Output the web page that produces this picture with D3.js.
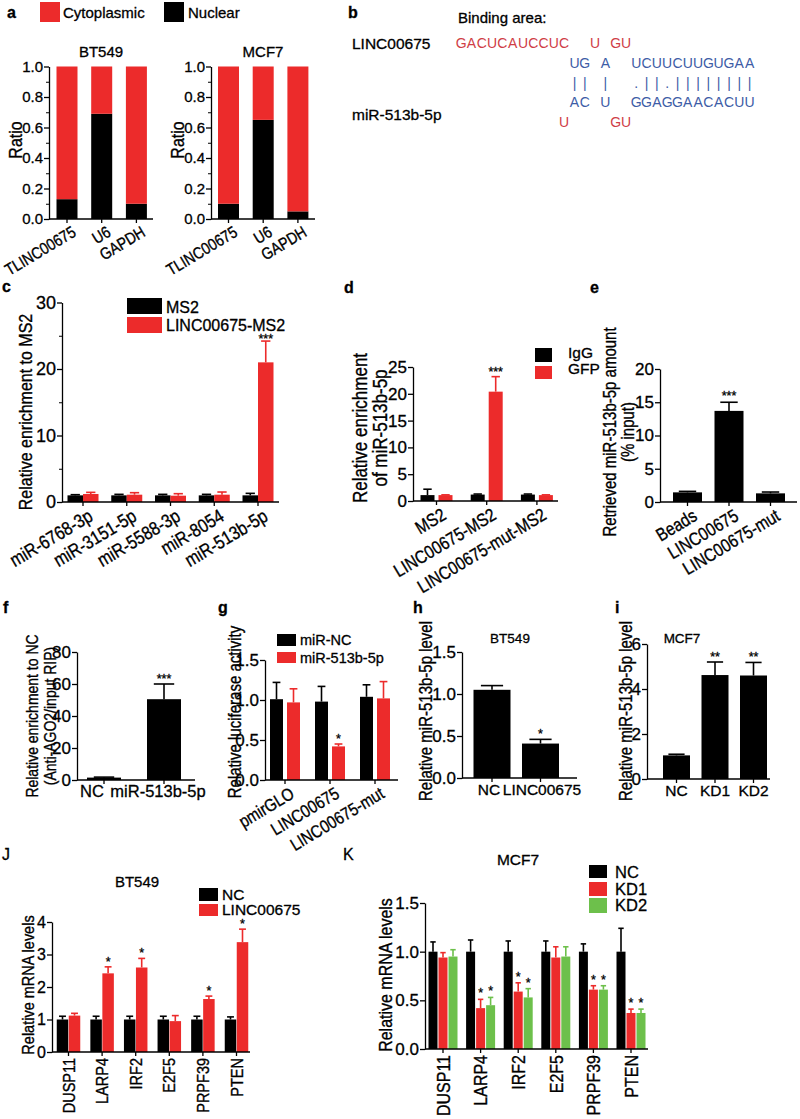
<!DOCTYPE html>
<html><head><meta charset="utf-8">
<script src="https://cdn.jsdelivr.net/npm/d3@7/dist/d3.min.js"></script>
<style>body{margin:0;background:#fff;} svg{display:block;} text{stroke:#000;stroke-width:0.3px;}</style>
</head><body>
<svg id="fig" width="800" height="1119"></svg>
<script>
// ================= DATA =================
// Panel a
const aCategories = ["TLINC00675", "U6", "GAPDH"];
const aSeries = ["Cytoplasmic", "Nuclear"];
const aNuclearBT549 = [0.13, 0.69, 0.10];
const aCytoBT549 = [0.87, 0.31, 0.90];
const aNuclearMCF7 = [0.10, 0.65, 0.05];
const aCytoMCF7 = [0.90, 0.35, 0.95];
const aTicks = [0, 0.2, 0.4, 0.6, 0.8, 1.0];
const aMinor = [0.1, 0.3, 0.5, 0.7, 0.9];

// Panel b
const bNames = ["LINC00675", "miR-513b-5p"];
const bRows = [
  {seq: "GACUCAUCCUC  U GU", tone: "red"},
  {seq: "           UG A  UCUUCUUGUGAA", tone: "blue"},
  {seq: "           || |  .||.||||||||", tone: "blue"},
  {seq: "           AC U  GGAGGAACACUU", tone: "blue"},
  {seq: "          U    GU", tone: "red"}
];

// Panel c
const cCategories = ["miR-6768-3p", "miR-3151-5p", "miR-5588-3p", "miR-8054", "miR-513b-5p"];
const cSeries = ["MS2", "LINC00675-MS2"];
const cMS2 = [1.0, 1.0, 1.0, 1.0, 1.0];
const cMS2Err = [0.1, 0.15, 0.15, 0.15, 0.3];
const cLinc = [1.2, 1.1, 0.95, 1.1, 21.0];
const cLincErr = [0.25, 0.3, 0.3, 0.4, 3.2];
const cSig = ["", "", "", "", "***"];
const cTicks = [0, 10, 20, 30];
const cMinor = [5, 15, 25];

// Panel d
const dCategories = ["MS2", "LINC00675-MS2", "LINC00675-mut-MS2"];
const dSeries = ["IgG", "GFP"];
const dIgG = [1.1, 1.2, 1.2];
const dIgGErr = [1.1, 0.1, 0.1];
const dGFP = [1.1, 20.4, 1.1];
const dGFPErr = [0.05, 2.8, 0.05];
const dSig = ["", "***", ""];
const dTicks = [0, 5, 10, 15, 20, 25];

// Panel e
const eCategories = ["Beads", "LINC00675", "LINC00675-mut"];
const eValues = [1.45, 13.7, 1.3];
const eErr = [0.15, 1.3, 0.2];
const eSig = ["", "***", ""];
const eTicks = [0, 5, 10, 15, 20];

// Panel f
const fCategories = ["NC", "miR-513b-5p"];
const fValues = [1.5, 50.5];
const fErr = [0.3, 9.5];
const fSig = ["", "***"];
const fTicks = [0, 20, 40, 60, 80];

// Panel g
const gCategories = ["pmirGLO", "LINC00675", "LINC00675-mut"];
const gSeries = ["miR-NC", "miR-513b-5p"];
const gNC = [1.01, 0.98, 1.04];
const gNCErr = [0.21, 0.19, 0.15];
const gMiR = [0.97, 0.42, 1.02];
const gMiRErr = [0.17, 0.03, 0.21];
const gSig = ["", "*", ""];
const gTicks = [0, 0.5, 1.0, 1.5];

// Panel h
const hCategories = ["NC", "LINC00675"];
const hValues = [1.05, 0.41];
const hErr = [0.05, 0.05];
const hSig = ["", "*"];
const hTicks = [0, 0.5, 1.0, 1.5];

// Panel i
const iCategories = ["NC", "KD1", "KD2"];
const iValues = [1.05, 4.62, 4.6];
const iErr = [0.05, 0.58, 0.58];
const iSig = ["", "**", "**"];
const iTicks = [0, 2, 4, 6];

// Panel J
const jCategories = ["DUSP11", "LARP4", "IRF2", "E2F5", "PRPF39", "PTEN"];
const jSeries = ["NC", "LINC00675"];
const jNC = [1.0, 1.0, 1.0, 1.0, 1.0, 1.0];
const jNCErr = [0.1, 0.1, 0.1, 0.1, 0.1, 0.08];
const jLinc = [1.12, 2.42, 2.6, 0.95, 1.63, 3.38];
const jLincErr = [0.07, 0.2, 0.28, 0.17, 0.09, 0.4];
const jSig = ["", "*", "*", "", "*", "*"];
const jTicks = [0, 1, 2, 3, 4];

// Panel K
const kCategories = ["DUSP11", "LARP4", "IRF2", "E2F5", "PRPF39", "PTEN"];
const kSeries = ["NC", "KD1", "KD2"];
const kNC = [1.0, 1.0, 1.0, 1.0, 1.0, 1.0];
const kNCErr = [0.1, 0.12, 0.11, 0.11, 0.08, 0.24];
const kKD1 = [0.94, 0.42, 0.59, 0.94, 0.61, 0.37];
const kKD1Err = [0.05, 0.09, 0.09, 0.11, 0.04, 0.04];
const kKD2 = [0.95, 0.45, 0.53, 0.95, 0.61, 0.37];
const kKD2Err = [0.07, 0.08, 0.09, 0.1, 0.04, 0.04];
const kSigKD = ["", "*", "*", "", "*", "*"];
const kTicks = [0, 0.5, 1.0, 1.5];

// ================= STYLE =================
const RED = "#ec2b2b", BLACK = "#000000", GREEN = "#6dc04b";
const SEQRED = "#cf3d46", SEQBLUE = "#3d5ca6";
const FONT = "'Liberation Sans', Arial, Helvetica, sans-serif";
const THICK = 1.18; // glyph thickening perpendicular to reading direction for rotated labels

const svg = d3.select("#fig").attr("font-family", FONT);

function txt(x, y, s, o = {}) {
  const t = svg.append("text").attr("x", x).attr("y", y).text(s)
    .attr("font-size", o.size || 15).attr("fill", o.fill || "#000")
    .attr("text-anchor", o.anchor || "start");
  if (o.bold) t.attr("font-weight", "bold");
  return t;
}
function vlabel(x, cy, s, size) {
  svg.append("text").attr("transform", `translate(${x},${cy}) rotate(-90) scale(1,${THICK})`)
    .attr("text-anchor", "middle").attr("dy", "0.36em")
    .attr("font-size", size || 16).text(s);
}

function yAxis(y, x0, ticks, fmt, size, minor) {
  const g = svg.append("g").attr("transform", `translate(${x0},0)`)
    .call(d3.axisLeft(y).tickValues(ticks).tickFormat(d3.format(fmt)).tickSize(5).tickSizeOuter(0));
  g.attr("font-family", null).attr("font-size", null);
  g.selectAll("text").attr("font-size", size).attr("fill", "#000").attr("x", -6);
  g.selectAll("line,path").attr("stroke", "#000").attr("stroke-width", 1.3);
  if (minor) {
    const m = svg.append("g").attr("transform", `translate(${x0},0)`)
      .call(d3.axisLeft(y).tickValues(minor).tickFormat("").tickSize(3).tickSizeOuter(0));
    m.select(".domain").remove();
    m.selectAll("line").attr("stroke", "#000").attr("stroke-width", 1);
  }
}

function xAxis(xg, yBase, ax0, ax1) {
  const g = svg.append("g").attr("transform", `translate(0,${yBase})`)
    .call(d3.axisBottom(xg).tickFormat("").tickSize(4).tickSizeOuter(0));
  g.select(".domain").remove();
  g.selectAll("line").attr("stroke", "#000").attr("stroke-width", 1.3);
  svg.append("line").attr("x1", ax0).attr("x2", ax1).attr("y1", yBase).attr("y2", yBase)
    .attr("stroke", "#000").attr("stroke-width", 1.4);
}

function xLabels(xg, yBase, mode, size, dxs) {
  const cx = (d, i) => xg(d) + xg.bandwidth() / 2 + (dxs ? dxs[i] : 0);
  const t = svg.append("g").selectAll("text").data(xg.domain()).join("text")
    .attr("font-size", size).text(d => d);
  if (mode === "rot30") {
    t.attr("transform", (d, i) => `translate(${cx(d, i) + 4},${yBase + 6}) rotate(-31) scale(1,${THICK})`)
      .attr("text-anchor", "end").attr("dy", "0.72em");
  } else if (mode === "rot90") {
    t.attr("transform", (d, i) => `translate(${cx(d, i)},${yBase + 6}) rotate(-90) scale(1,${THICK})`)
      .attr("text-anchor", "end").attr("dy", "0.36em");
  } else {
    t.attr("x", cx).attr("y", yBase + 17).attr("text-anchor", "middle");
  }
}

function bars(cfg) {
  const y = d3.scaleLinear().domain(cfg.yDomain).range([cfg.yBase, cfg.yTop]);
  const n = cfg.cats.length;
  const xg = d3.scaleBand().domain(cfg.cats)
    .range([cfg.c0 - cfg.step / 2, cfg.c0 + cfg.step * (n - 0.5)]);
  const ns = cfg.series.length;
  const gap = cfg.gap || 0;
  const total = ns * cfg.bw + (ns - 1) * gap;
  const xs = d3.scaleBand().domain(cfg.series).range([-total / 2, total / 2])
    .paddingInner(ns > 1 ? gap / (cfg.bw + gap) : 0);
  const sigDy = cfg.sigDy !== undefined ? cfg.sigDy : -1;
  cfg.series.forEach((s, si) => {
    const data = cfg.cats.map((c, i) => ({
      c, v: cfg.values[si][i], e: cfg.errs[si][i],
      sig: cfg.sig && cfg.sig[si] ? cfg.sig[si][i] : ""
    }));
    const left = d => xg(d.c) + xg.bandwidth() / 2 + xs(s);
    const mid = d => left(d) + xs.bandwidth() / 2;
    const col = cfg.colors[si];
    const g = svg.append("g");
    g.selectAll("rect").data(data).join("rect")
      .attr("x", left).attr("width", xs.bandwidth())
      .attr("y", d => y(d.v)).attr("height", d => y(0) - y(d.v)).attr("fill", col);
    g.selectAll("line.eb").data(data).join("line").attr("class", "eb")
      .attr("x1", mid).attr("x2", mid).attr("y1", d => y(d.v)).attr("y2", d => y(d.v + d.e))
      .attr("stroke", col).attr("stroke-width", 1.6);
    const cw = xs.bandwidth() * 0.6;
    g.selectAll("line.cap").data(data).join("line").attr("class", "cap")
      .attr("x1", d => mid(d) - cw / 2).attr("x2", d => mid(d) + cw / 2)
      .attr("y1", d => y(d.v + d.e)).attr("y2", d => y(d.v + d.e))
      .attr("stroke", col).attr("stroke-width", 1.6);
    g.selectAll("text").data(data.filter(d => d.sig)).join("text")
      .attr("x", mid).attr("y", d => y(d.v + d.e) + sigDy).attr("text-anchor", "middle")
      .attr("font-size", 12.5).text(d => d.sig);
  });
  yAxis(y, cfg.ax0, cfg.ticks, cfg.fmt, cfg.tickSize || 15, cfg.minor);
  xAxis(xg, cfg.yBase, cfg.ax0, cfg.ax1);
  xLabels(xg, cfg.yBase, cfg.labelMode, cfg.labelSize || 15, cfg.labelDx);
  return {x: xg, y};
}

function legend(items, x, ys, w, hs, tx, tys, size) {
  items.forEach((it, i) => {
    svg.append("rect").attr("x", x).attr("y", ys[i]).attr("width", w).attr("height", hs[i]).attr("fill", it.color);
    txt(tx, tys[i], it.label, {size});
  });
}

// ================= PANEL a =================
txt(7, 18, "a", {bold: true, size: 16});
legend([{label: "Cytoplasmic", color: RED}], 40, [2], 20, [20], 63, [18], 15);
legend([{label: "Nuclear", color: BLACK}], 164, [2], 20, [20], 188, [18], 15);

function stacked(ax0, ax1, c0, nuc, cyto, title, ylabX) {
  const y = d3.scaleLinear().domain([0, 1]).range([219, 66.5]);
  const step = 34.7, bw = 21;
  const xg = d3.scaleBand().domain(aCategories).range([c0 - step / 2, c0 + step * 2.5]);
  const rows = aCategories.map((c, i) => ({c, Nuclear: nuc[i], Cytoplasmic: cyto[i]}));
  const st = d3.stack().keys(["Nuclear", "Cytoplasmic"])(rows);
  const colors = {Nuclear: BLACK, Cytoplasmic: RED};
  st.forEach(layer => {
    svg.append("g").selectAll("rect").data(layer).join("rect")
      .attr("x", d => xg(d.data.c) + xg.bandwidth() / 2 - bw / 2).attr("width", bw)
      .attr("y", d => y(d[1])).attr("height", d => y(d[0]) - y(d[1]))
      .attr("fill", colors[layer.key]);
  });
  yAxis(y, ax0, aTicks, ".1f", 15, aMinor);
  xAxis(xg, 219, ax0, ax1);
  xLabels(xg, 219, "rot30", 14);
  txt((ax0 + ax1) / 2, 57, title, {anchor: "middle", size: 15});
  vlabel(ylabX, 140, "Ratio", 16);
}
stacked(49, 153, 67, aNuclearBT549, aCytoBT549, "BT549", 15);
stacked(211, 315, 228.5, aNuclearMCF7, aCytoMCF7, "MCF7", 177);

// ================= PANEL b =================
txt(348, 18, "b", {bold: true, size: 16});
txt(458, 23, "Binding area:", {size: 15});
txt(352, 49, bNames[0], {size: 15.5});
txt(352, 120, bNames[1], {size: 15.5});
const colX = d3.scaleLinear().domain([0, 1]).range([456 + 5.15, 456 + 5.15 + 10.3]);
const rowY = d3.scaleLinear().domain([0, 1]).range([48, 67.8]);
bRows.forEach((r, ri) => {
  const chars = r.seq.split("").map((ch, ci) => ({ch, ci})).filter(d => d.ch !== " ");
  const c = r.tone === "red" ? SEQRED : SEQBLUE;
  svg.append("g").selectAll("text").data(chars).join("text")
    .attr("x", d => colX(d.ci)).attr("y", rowY(ri)).attr("text-anchor", "middle")
    .attr("font-size", 14).attr("fill", c).style("stroke", "none")
    .text(d => d.ch);
});

// ================= PANEL c =================
txt(2, 292, "c", {bold: true, size: 16});
bars({cats: cCategories, series: cSeries, values: [cMS2, cLinc], errs: [cMS2Err, cLincErr],
  sig: [null, cSig], colors: [BLACK, RED], yDomain: [0, 30], yBase: 502, yTop: 302.5,
  c0: 83, step: 43.75, bw: 15.5, gap: 0, ax0: 62, ax1: 279, ticks: cTicks, minor: cMinor,
  fmt: "d", labelMode: "rot30", labelSize: 16, tickSize: 18, sigDy: 2});
legend([{label: "MS2", color: BLACK}, {label: "LINC00675-MS2", color: RED}],
  127, [298, 317], 35, [16, 16], 166, [313, 331], 16);
vlabel(25, 412, "Relative enrichment to MS2", 16);

// ================= PANEL d =================
txt(344, 293, "d", {bold: true, size: 16});
bars({cats: dCategories, series: dSeries, values: [dIgG, dGFP], errs: [dIgGErr, dGFPErr],
  sig: [null, dSig], colors: [BLACK, RED], yDomain: [0, 25], yBase: 501, yTop: 367,
  c0: 436.5, step: 50.2, bw: 14, gap: 4, ax0: 413, ax1: 558, ticks: dTicks,
  fmt: "d", labelMode: "rot30", labelSize: 15.5, tickSize: 17});
legend([{label: "IgG", color: BLACK}, {label: "GFP", color: RED}],
  535, [348, 366], 17, [14, 13], 568, [358, 374], 15.5);
vlabel(360, 428, "Relative enrichment", 17);
vlabel(380, 428, "of miR-513b-5p", 17);

// ================= PANEL e =================
txt(590, 293, "e", {bold: true, size: 16});
bars({cats: eCategories, series: ["value"], values: [eValues], errs: [eErr],
  sig: [eSig], colors: [BLACK], yDomain: [0, 20], yBase: 502, yTop: 369,
  c0: 687.5, step: 41.5, bw: 29, ax0: 660, ax1: 797, ticks: eTicks,
  fmt: "d", labelMode: "rot30", labelSize: 15.5, tickSize: 17, sigDy: -2});
vlabel(610, 432, "Retrieved miR-513b-5p amount", 15);
vlabel(628, 432, "(% input)", 15);

// ================= PANEL f =================
txt(3, 613, "f", {bold: true, size: 16});
bars({cats: fCategories, series: ["value"], values: [fValues], errs: [fErr],
  sig: [fSig], colors: [BLACK], yDomain: [0, 80], yBase: 780, yTop: 652,
  c0: 104, step: 60, bw: 34, ax0: 77, ax1: 195, ticks: fTicks,
  fmt: "d", labelMode: "flat", labelSize: 16.5, tickSize: 17, labelDx: [-12, -6]});
vlabel(32, 716, "Relative enrichment to NC", 14);
vlabel(50, 716, "(Anti-AGO2/input RIP)", 14);

// ================= PANEL g =================
txt(218, 613, "g", {bold: true, size: 16});
bars({cats: gCategories, series: gSeries, values: [gNC, gMiR], errs: [gNCErr, gMiRErr],
  sig: [null, gSig], colors: [BLACK, RED], yDomain: [0, 1.5], yBase: 780, yTop: 660,
  c0: 285, step: 45, bw: 13, gap: 4, ax0: 265, ax1: 398, ticks: gTicks,
  fmt: ".1f", labelMode: "rot30", labelSize: 15, tickSize: 17});
legend([{label: "miR-NC", color: BLACK}, {label: "miR-513b-5p", color: RED}],
  277, [634, 652], 19, [12, 11], 300, [645, 663], 14.5);
vlabel(235, 712, "Relative luciferase activity", 15);

// ================= PANEL h =================
txt(413, 613, "h", {bold: true, size: 16});
txt(510, 643, "BT549", {anchor: "middle", size: 13.5});
bars({cats: hCategories, series: ["value"], values: [hValues], errs: [hErr],
  sig: [hSig], colors: [BLACK], yDomain: [0, 1.5], yBase: 778, yTop: 652,
  c0: 492, step: 48.5, bw: 37, ax0: 462, ax1: 577, ticks: hTicks,
  fmt: ".1f", labelMode: "flat", labelSize: 15.5, tickSize: 17, labelDx: [-3, 1.5]});
vlabel(426, 711, "Relative miR-513b-5p level", 15);

// ================= PANEL i =================
txt(615, 613, "i", {bold: true, size: 16});
txt(682, 643, "MCF7", {anchor: "middle", size: 13.5});
bars({cats: iCategories, series: ["value"], values: [iValues], errs: [iErr],
  sig: [iSig], colors: [BLACK], yDomain: [0, 6], yBase: 779, yTop: 644,
  c0: 676.5, step: 38.5, bw: 27, ax0: 647, ax1: 770, ticks: iTicks,
  fmt: "d", labelMode: "flat", labelSize: 15.5, tickSize: 17});
vlabel(626, 711, "Relative miR-513b-5p level", 15);

// ================= PANEL J =================
txt(2, 860, "J", {size: 16});
txt(137, 887, "BT549", {anchor: "middle", size: 15});
bars({cats: jCategories, series: jSeries, values: [jNC, jLinc], errs: [jNCErr, jLincErr],
  sig: [null, jSig], colors: [BLACK, RED], yDomain: [0, 4], yBase: 1052, yTop: 922,
  c0: 68.5, step: 33.6, bw: 11.5, gap: 0.5, ax0: 52, ax1: 250, ticks: jTicks,
  fmt: "d", labelMode: "rot90", labelSize: 14.5, tickSize: 16});
legend([{label: "NC", color: BLACK}, {label: "LINC00675", color: RED}],
  199, [888, 904], 19, [13, 12], 222, [900, 915], 15.5);
vlabel(28, 985, "Relative mRNA levels", 14.5);

// ================= PANEL K =================
txt(343, 860, "K", {size: 16});
txt(518, 865, "MCF7", {anchor: "middle", size: 15.5});
bars({cats: kCategories, series: kSeries, values: [kNC, kKD1, kKD2], errs: [kNCErr, kKD1Err, kKD2Err],
  sig: [null, kSigKD, kSigKD], colors: [BLACK, RED, GREEN], yDomain: [0, 1.5], yBase: 1049, yTop: 903,
  c0: 443, step: 37.6, bw: 9, gap: 1, ax0: 425, ax1: 648, ticks: kTicks,
  fmt: ".1f", labelMode: "rot90", labelSize: 16, tickSize: 17, sigDy: -2});
legend([{label: "NC", color: BLACK}, {label: "KD1", color: RED}, {label: "KD2", color: GREEN}],
  589, [865, 882, 898], 18, [13, 14, 15], 615, [878, 895, 911], 16.5);
vlabel(385, 975, "Relative mRNA levels", 16);
</script>
</body></html>
